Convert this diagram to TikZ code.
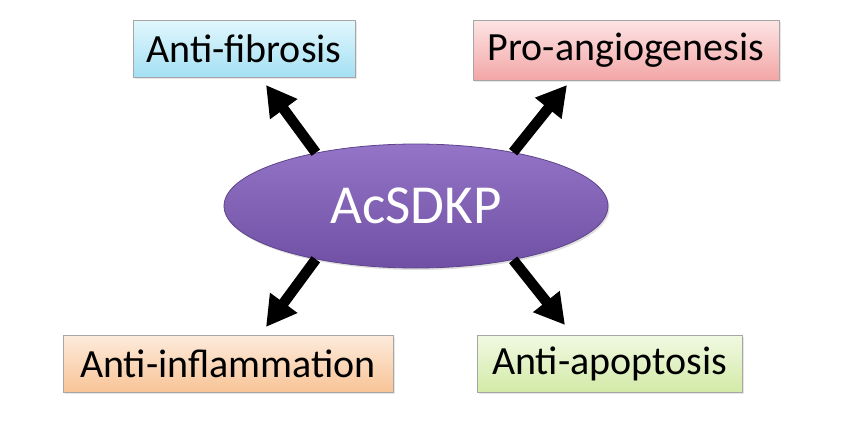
\documentclass[tikz,border=0pt]{standalone}
\usepackage{fontspec}
\setmainfont{Carlito}
\usetikzlibrary{arrows.meta,positioning,shapes.geometric,shadows}

\definecolor{fibtop}{HTML}{E2F7FD}
\definecolor{fibbot}{HTML}{A3E0F3}
\definecolor{protop}{HTML}{FDE4E4}
\definecolor{probot}{HTML}{F3A6A6}
\definecolor{inftop}{HTML}{FDEBDC}
\definecolor{infbot}{HTML}{F8C497}
\definecolor{apotop}{HTML}{F1F9E2}
\definecolor{apobot}{HTML}{D3EAA8}
\definecolor{acstop}{HTML}{9474C6}
\definecolor{acsbot}{HTML}{6F50A4}

\begin{document}
\begin{tikzpicture}[x=1pt, y=-1pt,
    effect/.style={draw=black!35, line width=0.8pt, inner sep=0pt,
      minimum height=57pt, font=\fontsize{40}{48}\selectfont,
      drop shadow={opacity=0.2, shadow xshift=1.5pt, shadow yshift=-2pt}},
    push/.style={line width=10.5pt, -{Triangle[width=32pt,length=30pt]}}]
    \useasboundingbox (0,0) rectangle (846,423);

    % Central peptide
    \node[ellipse, minimum width=384pt, minimum height=124pt, inner sep=0pt,
      top color=acstop, bottom color=acsbot, draw=acsbot!85!black, line width=0.8pt,
      drop shadow={opacity=0.25, shadow xshift=1.5pt, shadow yshift=-2pt},
      text=white, font=\fontsize{55}{66}\selectfont] (acs) at (416,206) {AcSDKP};

    % Four effects
    \node[effect, minimum width=222pt, top color=fibtop, bottom color=fibbot]
      (fib) at (244,48.5) {Anti-fibrosis};
    \node[effect, minimum width=306pt, minimum height=60pt, top color=protop, bottom color=probot]
      (pro) at (626,50) {Pro-angiogenesis};
    \node[effect, minimum width=330pt, top color=inftop, bottom color=infbot]
      (inf) at (228,363.5) {Anti-inflammation};
    \node[effect, minimum width=265pt, top color=apotop, bottom color=apobot]
      (apo) at (609.5,363.5) {Anti-apoptosis};

    % Arrow tips, just short of the boxes
    \coordinate (tipfib) at (266,85);
    \coordinate (tippro) at (567,85);
    \coordinate (tipinf) at (266,327);
    \coordinate (tipapo) at (565,325);

    \draw[push] (acs.152) -- (tipfib);
    \draw[push] (acs.29) -- (tippro);
    \draw[push] (acs.208) -- (tipinf);
    \draw[push] (acs.331) -- (tipapo);
\end{tikzpicture}
\end{document}
